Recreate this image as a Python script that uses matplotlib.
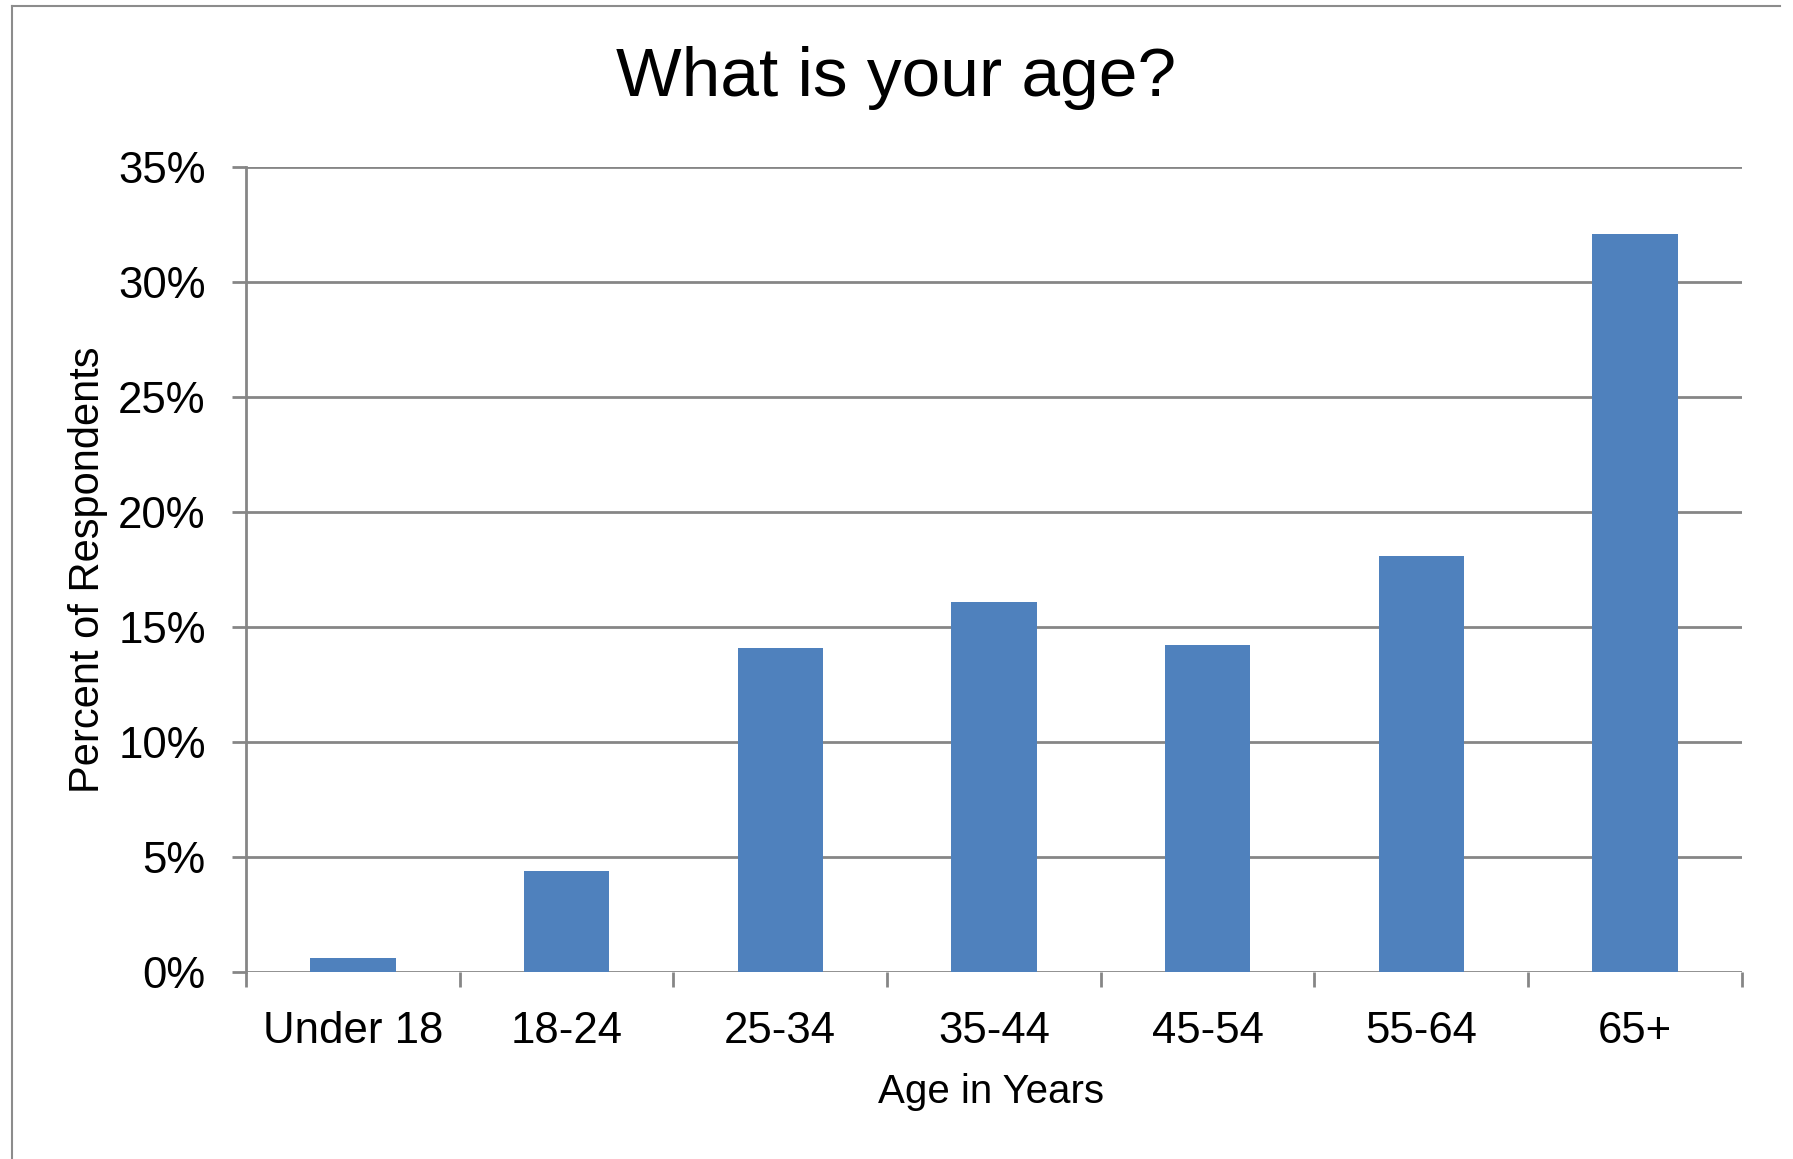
import matplotlib
matplotlib.use("Agg")
from matplotlib import pyplot as plt
from matplotlib.lines import Line2D
from matplotlib.ticker import FuncFormatter, FixedLocator
import numpy as np

# dados
faixas = ["Under 18", "18-24", "25-34", "35-44", "45-54", "55-64", "65+"]
percentuais = [0.6, 4.4, 14.1, 16.1, 14.2, 18.1, 32.1]
yticks = [0, 5, 10, 15, 20, 25, 30, 35]

cinza = "#868686"
azul = "#4F81BD"
fonte_eixo = ["Liberation Sans Narrow", "Liberation Sans"]

fig = plt.figure(figsize=(17.93, 11.59), dpi=100)
ax = fig.add_axes([0.1372, 0.1613, 0.9715 - 0.1372, 0.8559 - 0.1613])

x = np.arange(len(faixas))
ax.bar(x, percentuais, width=0.4, color=azul, zorder=3)

ax.set_xlim(-0.5, len(faixas) - 0.5)
ax.set_ylim(0, 35)
ax.set_yticks(yticks)
ax.yaxis.set_major_formatter(FuncFormatter(lambda v, p: f"{v:.0f}%"))
ax.grid(axis="y", color=cinza, linewidth=2.0, zorder=1)
ax.set_axisbelow(True)

ax.set_xticks(x)
ax.set_xticklabels(faixas)
ax.xaxis.set_minor_locator(FixedLocator(np.arange(-0.5, len(faixas), 1.0)))

for s in ["top", "right", "bottom"]:
    ax.spines[s].set_visible(False)
ax.spines["left"].set_color(cinza)
ax.spines["left"].set_linewidth(2.0)

ax.tick_params(axis="x", which="major", length=0, pad=28)
ax.tick_params(axis="x", which="minor", length=11, width=2.0, color=cinza)
ax.tick_params(axis="y", length=10, width=2.0, color=cinza, pad=19)
for lbl in ax.get_xticklabels() + ax.get_yticklabels():
    lbl.set_fontfamily(fonte_eixo)
    lbl.set_fontsize(31.5)

fig.text(0.4995, 0.933, "What is your age?", ha="center", va="center",
         fontsize=50, family="Liberation Sans")
fig.text(0.553, 0.058, "Age in Years", ha="center", va="center",
         fontsize=29, family="Liberation Sans")
fig.text(0.049, 0.508, "Percent of Respondents", ha="center", va="center",
         rotation=90, fontsize=30, family="Liberation Sans")

# moldura
topo = 1 - 6 / 1159
esq = 12 / 1793
fig.add_artist(Line2D([esq, esq], [0, topo], color="#8c8c8c", linewidth=1.5))
fig.add_artist(Line2D([esq, 1780 / 1793], [topo, topo], color="#8c8c8c", linewidth=1.5))

fig.savefig("out.png", dpi=100)
